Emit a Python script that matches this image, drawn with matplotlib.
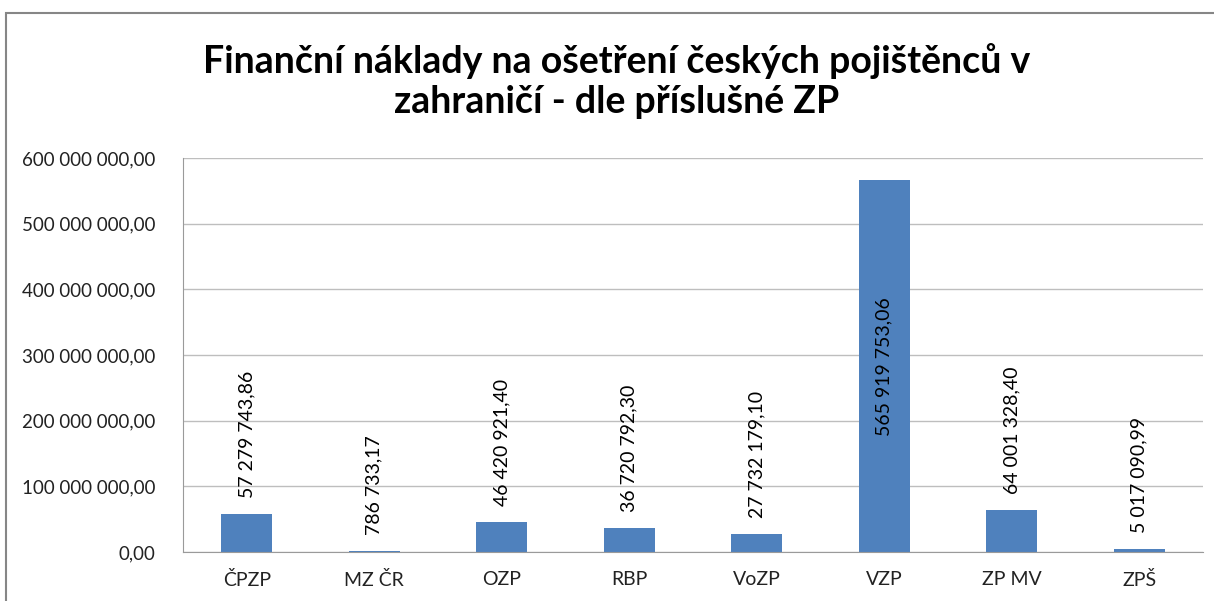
import matplotlib.pyplot as plt
from matplotlib.ticker import FuncFormatter
from matplotlib.patches import Rectangle

plt.rcParams['font.family'] = ['Lato', 'DejaVu Sans']

kategorie = ['ČPZP', 'MZ ČR', 'OZP', 'RBP', 'VoZP', 'VZP', 'ZP MV', 'ZPŠ']
naklady = [57279743.86, 786733.17, 46420921.40, 36720792.30, 27732179.10,
           565919753.06, 64001328.40, 5017090.99]
popisky = ['57 279 743,86', '786 733,17', '46 420 921,40', '36 720 792,30',
           '27 732 179,10', '565 919 753,06', '64 001 328,40', '5 017 090,99']
y_ticks = [0, 100e6, 200e6, 300e6, 400e6, 500e6, 600e6]


def cz_format(v, pos=None):
    s = f"{v:,.2f}"
    return s.replace(',', ' ').replace('.', ',')


fig = plt.figure(figsize=(12.14, 6.01), dpi=100)
ax = fig.add_axes([183 / 1214, 1 - 552 / 601, (1203 - 183) / 1214, (552 - 158) / 601])

# ramecek grafu (orezany vpravo a dole)
fig.patches.append(Rectangle((6 / 1214, -0.1), 1.2, 1 - 13 / 601 + 0.1,
                             transform=fig.transFigure, fill=False,
                             edgecolor='#868686', linewidth=1.5))

x = range(len(kategorie))
bars = ax.bar(x, naklady, width=0.4, color='#4F81BD', zorder=2)

ax.set_xlim(-0.5, len(kategorie) - 0.5)
ax.set_ylim(0, 600e6)
ax.set_yticks(y_ticks)
ax.yaxis.set_major_formatter(FuncFormatter(cz_format))
ax.set_xticks(list(x))
ax.set_xticklabels(kategorie)
ax.grid(axis='y', color='#BEBEBE', linewidth=1, zorder=0)
ax.tick_params(axis='y', length=0, labelsize=13.5, colors='#222222', pad=20)
ax.tick_params(axis='x', length=0, labelsize=14, colors='#222222', pad=14)
for side in ['top', 'right']:
    ax.spines[side].set_visible(False)
for side in ['left', 'bottom']:
    ax.spines[side].set_color('#9A9A9A')

for i, (b, lab) in enumerate(zip(bars, popisky)):
    h = b.get_height()
    if kategorie[i] == 'VZP':
        ax.text(b.get_x() + b.get_width() / 2, h / 2, lab, rotation=90,
                ha='center', va='center', fontsize=14, color='black', zorder=3)
    else:
        ax.annotate(lab, (b.get_x() + b.get_width() / 2, h),
                    xytext=(0, 16), textcoords='offset pixels', rotation=90,
                    ha='center', va='bottom', fontsize=14, color='black')

fig.text(617 / 1214, 1 - 81 / 601,
         'Finanční náklady na ošetření českých pojištěnců v\nzahraničí - dle příslušné ZP',
         ha='center', va='center', fontsize=27, fontweight='bold',
         linespacing=1.2)

plt.savefig('out.png', dpi=100)
